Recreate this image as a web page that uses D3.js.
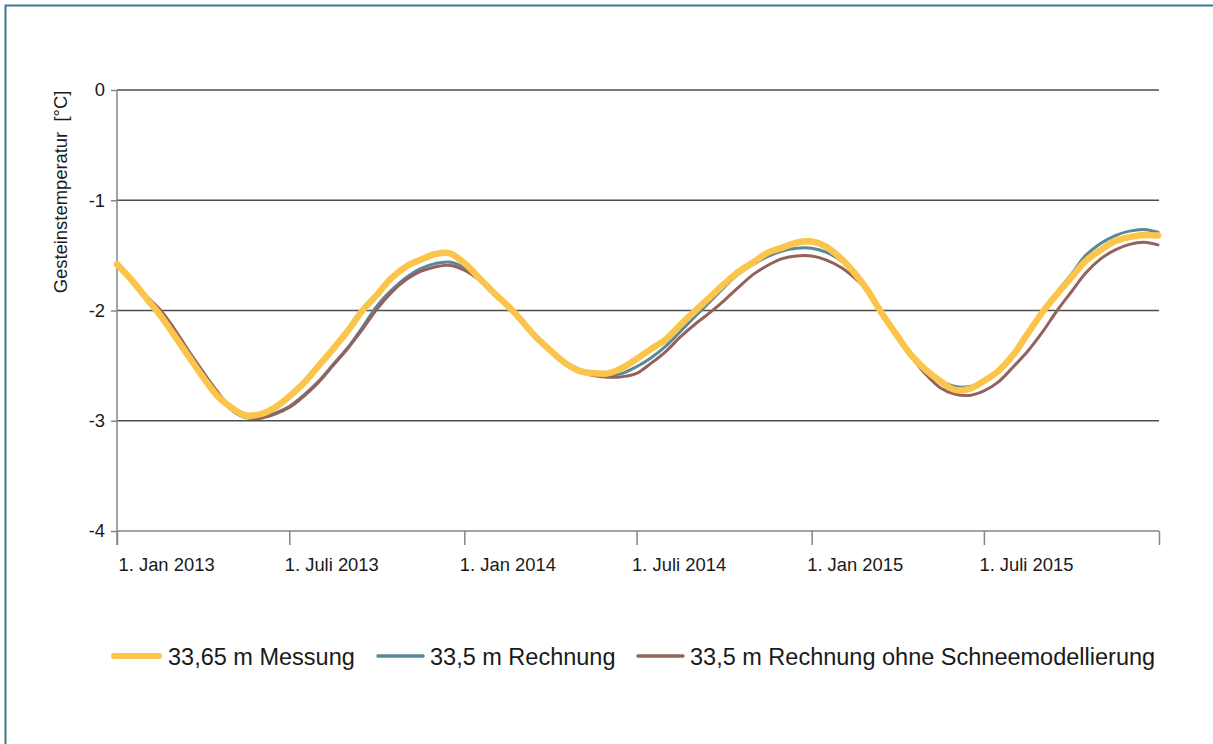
<!DOCTYPE html>
<html><head><meta charset="utf-8">
<script src="https://cdn.jsdelivr.net/npm/d3@7"></script>
<style>
html,body{margin:0;padding:0;background:#fff;}
svg text{font-family:"Liberation Sans",Arial,sans-serif;fill:#1a1a1a;}
</style></head>
<body>
<svg id="chart" width="1213" height="744"></svg>
<script>
// Dates: 1st and 16th of each month, 2013-2015, plus 31 Dec 2015
const dates = [];
for (let y = 2013; y <= 2015; y++) for (let m = 0; m < 12; m++) { dates.push(new Date(y, m, 1)); dates.push(new Date(y, m, 16)); }
dates.push(new Date(2015, 11, 31));

const messung = [
 -1.58,-1.72,-1.89,-2.05,-2.21,-2.40,-2.60,-2.77,-2.88,-2.95,-2.94,-2.88,
 -2.78,-2.66,-2.50,-2.35,-2.18,-2.00,-1.86,-1.71,-1.60,-1.54,-1.49,-1.48,
 -1.57,-1.70,-1.84,-1.96,-2.08,-2.23,-2.36,-2.47,-2.545,-2.57,-2.57,-2.52,
 -2.44,-2.35,-2.26,-2.13,-2.00,-1.88,-1.76,-1.65,-1.56,-1.475,-1.43,-1.385,
 -1.375,-1.42,-1.53,-1.67,-1.82,-2.03,-2.23,-2.41,-2.54,-2.64,-2.72,-2.71,
 -2.64,-2.55,-2.40,-2.21,-2.01,-1.85,-1.70,-1.55,-1.45,-1.37,-1.335,-1.315,
 -1.32];
const rechnung = [
 -1.58,-1.73,-1.88,-2.02,-2.17,-2.37,-2.57,-2.75,-2.90,-2.97,-2.975,-2.93,
 -2.87,-2.77,-2.64,-2.49,-2.33,-2.15,-1.96,-1.82,-1.70,-1.62,-1.575,-1.56,
 -1.61,-1.70,-1.83,-1.96,-2.08,-2.22,-2.35,-2.46,-2.53,-2.58,-2.59,-2.57,
 -2.51,-2.43,-2.32,-2.19,-2.05,-1.92,-1.79,-1.67,-1.58,-1.51,-1.46,-1.435,
 -1.435,-1.47,-1.55,-1.68,-1.82,-2.02,-2.22,-2.40,-2.53,-2.63,-2.69,-2.69,
 -2.64,-2.56,-2.42,-2.23,-2.01,-1.83,-1.67,-1.50,-1.39,-1.32,-1.28,-1.265,
 -1.29];
const ohneSchnee = [
 -1.58,-1.73,-1.87,-2.00,-2.15,-2.35,-2.55,-2.73,-2.88,-2.96,-2.975,-2.94,
 -2.88,-2.78,-2.65,-2.50,-2.34,-2.17,-1.99,-1.84,-1.72,-1.645,-1.605,-1.59,
 -1.635,-1.72,-1.84,-1.97,-2.09,-2.23,-2.36,-2.47,-2.55,-2.59,-2.605,-2.60,
 -2.57,-2.48,-2.37,-2.24,-2.12,-2.02,-1.91,-1.79,-1.67,-1.59,-1.53,-1.505,
 -1.505,-1.54,-1.61,-1.71,-1.82,-2.01,-2.22,-2.42,-2.58,-2.70,-2.76,-2.77,
 -2.73,-2.65,-2.51,-2.37,-2.19,-2.00,-1.83,-1.66,-1.53,-1.45,-1.40,-1.38,
 -1.405];

const seriesNames = ["33,65 m Messung", "33,5 m Rechnung", "33,5 m Rechnung ohne Schneemodellierung"];
const seriesColors = ["#FAC54A", "#5A8799", "#93625A"];
const yTicks = [0, -1, -2, -3, -4];
const xTickDates = [new Date(2013,0,1), new Date(2013,6,1), new Date(2014,0,1), new Date(2014,6,1), new Date(2015,0,1), new Date(2015,6,1), new Date(2016,0,1)];
const xTickLabels = ["1. Jan 2013", "1. Juli 2013", "1. Jan 2014", "1. Juli 2014", "1. Jan 2015", "1. Juli 2015", ""];
const yTitle = "Gesteinstemperatur  [°C]";

const svg = d3.select("#chart");
const L = 117, R = 1159, T = 90, B = 531;
const x = d3.scaleTime().domain([new Date(2013,0,1), new Date(2016,0,1)]).range([L, R]);
const y = d3.scaleLinear().domain([-4, 0]).range([B, T]);
const FONT = "Liberation Sans, Arial, sans-serif";

// frame
svg.append("path").attr("d", "M5.5,744 V5.5 H1213").attr("fill","none").attr("stroke","#3D7A91").attr("stroke-width",2);

// gridlines
svg.append("g").selectAll("line").data(yTicks.filter(d => d !== -4)).join("line")
  .attr("x1", L).attr("x2", R).attr("y1", d => y(d)).attr("y2", d => y(d))
  .attr("stroke", "#4d4d4d").attr("stroke-width", 1.3);

// y axis
const ya = svg.append("g").attr("transform", `translate(${L},0)`)
  .call(d3.axisLeft(y).tickValues(yTicks).tickSize(6).tickPadding(6).tickFormat(d => String(d)));
ya.select(".domain").attr("d", `M0,${T}V${B+14}`).attr("stroke", "#858585").attr("stroke-width", 1.5);
ya.selectAll(".tick line").attr("stroke", "#858585").attr("stroke-width", 1.5);
ya.selectAll(".tick text").attr("font-size", 18.4).attr("fill", "#1a1a1a").attr("font-family", FONT);

// x axis
const xa = svg.append("g").attr("transform", `translate(0,${B})`)
  .call(d3.axisBottom(x).tickValues(xTickDates).tickSize(14).tickFormat((d, i) => xTickLabels[i]));
xa.select(".domain").attr("d", `M${L},0H${R}`).attr("stroke", "#858585").attr("stroke-width", 1.5);
xa.selectAll(".tick line").attr("stroke", "#858585").attr("stroke-width", 1.5);
xa.selectAll(".tick text").attr("font-size", 18.4).attr("fill", "#1a1a1a")
  .attr("font-family", FONT)
  .attr("text-anchor", "start").attr("y", 40).attr("dy", 0)
  .attr("x", (d, i) => i === 0 ? 1 : -5);

// y title
svg.append("text").attr("transform", `translate(67,192) rotate(-90)`)
  .attr("text-anchor", "middle").attr("font-size", 18.4).style("white-space", "pre").text(yTitle);

// lines
const line = d3.line().x((d, i) => x(dates[i])).y(d => y(d)).curve(d3.curveCatmullRom.alpha(0.5));
const allSeries = [messung, rechnung, ohneSchnee];
const widths = [6.5, 3, 3];
[1, 2, 0].forEach(k => {
  svg.append("path").datum(allSeries[k]).attr("d", line)
    .attr("fill", "none").attr("stroke", seriesColors[k]).attr("stroke-width", widths[k])
    .attr("stroke-linecap", "round").attr("stroke-linejoin", "round");
});

// legend
const legX = [114, 378, 638];
const lg = svg.append("g");
seriesNames.forEach((n, k) => {
  lg.append("line").attr("x1", legX[k]).attr("x2", legX[k] + 45).attr("y1", 656).attr("y2", 656)
    .attr("stroke", seriesColors[k]).attr("stroke-width", k === 0 ? 6 : 3.5).attr("stroke-linecap", "round");
  lg.append("text").attr("x", legX[k] + (k === 0 ? 54 : 52)).attr("y", 664.5).attr("font-size", 23.5).text(n);
});
</script>
</body></html>
